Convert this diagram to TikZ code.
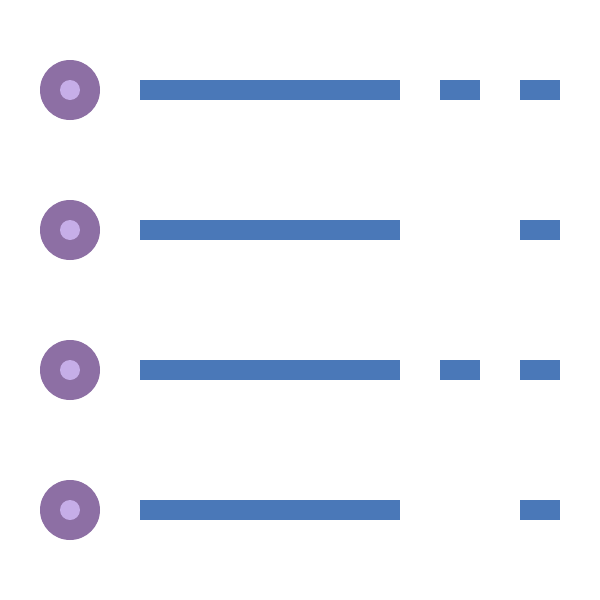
\documentclass[tikz,border=0pt]{standalone}
\definecolor{ringpurple}{HTML}{8D6FA4}
\definecolor{dotlilac}{HTML}{C6AEE8}
\definecolor{barblue}{HTML}{4A78B8}
\tikzset{
  ring/.style={circle, fill=ringpurple, draw=none, minimum size=60pt, inner sep=0pt},
  dot/.style={circle, fill=dotlilac, draw=none, minimum size=20pt, inner sep=0pt},
  bar/.style={fill=barblue, draw=none}
}
\begin{document}
\begin{tikzpicture}[x=1pt,y=-1pt]
\useasboundingbox (0,0) rectangle (600,600);
\foreach \i/\y in {1/90,2/230,3/370,4/510}{
  \node[ring] (ring\i) at (70,\y) {};
  \node[dot] (dot\i) at (70,\y) {};
  \fill[bar] (140,\y-10) rectangle (400,\y+10);
  \fill[bar] (520,\y-10) rectangle (560,\y+10);
}
\fill[bar] (440,80) rectangle (480,100);
\fill[bar] (440,360) rectangle (480,380);
\end{tikzpicture}
\end{document}
